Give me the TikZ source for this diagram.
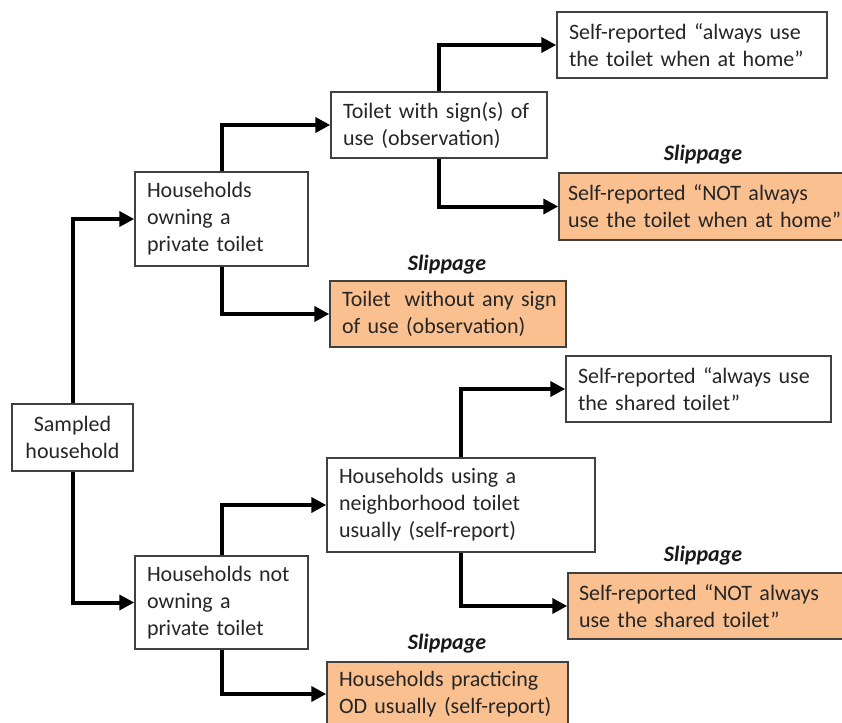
\documentclass[tikz,border=0pt]{standalone}
\usepackage{fontspec}
\setmainfont{Carlito}
\usetikzlibrary{arrows.meta}
\definecolor{slipfill}{HTML}{FAC090}
\definecolor{edgegray}{HTML}{404040}
\begin{document}
\begin{tikzpicture}[x=1pt,y=-1pt,
  font=\fontsize{22}{27}\selectfont,
  box/.style={draw=edgegray, line width=1.5pt, fill=white, inner xsep=12pt, inner ysep=0pt, align=left, text=black!85},
  slipbox/.style={box, fill=slipfill},
  sliplabel/.style={font=\fontsize{22}{27}\selectfont\bfseries\itshape, text=black!90, inner sep=0pt},
  conn/.style={line width=4pt, -{Triangle[length=15pt,width=15pt]}}]
\clip (0,0) rectangle (842,722);
\fill[white] (0,0) rectangle (842,722);
% boxes
\node[box, align=center, minimum width=121pt, text width=97pt, minimum height=67pt] (sampled) at (72.5,437.5) {Sampled\\household};
\node[box, minimum width=173pt, text width=149pt, minimum height=94pt] (own) at (221.5,219) {\mbox{Households}\\\mbox{owning a}\\\mbox{private toilet}};
\node[box, minimum width=173pt, text width=149pt, minimum height=93pt] (notown) at (221.5,602.5) {\mbox{Households not}\\\mbox{owning a}\\\mbox{private toilet}};
\node[box, minimum width=216pt, text width=192pt, minimum height=66pt] (sign) at (439,125) {\mbox{Toilet with sign(s) of}\\\mbox{use (observation)}};
\node[box, minimum width=270pt, text width=246pt, minimum height=66pt] (always1) at (692,45) {\mbox{Self-reported “always use}\\\mbox{the toilet when at home”}};
\node[slipbox, inner xsep=9pt, minimum width=286pt, text width=268pt, minimum height=67pt] (not1) at (702,206.5) {\mbox{Self-reported “NOT always}\\\mbox{use the toilet when at home”}};
\node[slipbox, minimum width=236pt, text width=212pt, minimum height=66pt] (without) at (448,314) {\mbox{Toilet\hspace{0.3em} without any sign}\\\mbox{of use (observation)}};
\node[box, minimum width=265pt, text width=241pt, minimum height=66pt] (always2) at (698.5,389) {\mbox{Self-reported “always use}\\\mbox{the shared toilet”}};
\node[box, minimum width=268pt, text width=244pt, minimum height=94pt] (neigh) at (461,505) {\mbox{Households using a}\\\mbox{neighborhood toilet}\\\mbox{usually (self-report)}};
\node[slipbox, inner xsep=11pt, minimum width=282pt, text width=260pt, minimum height=66pt] (not2) at (709,606) {\mbox{Self-reported “NOT always}\\\mbox{use the shared toilet”}};
\node[slipbox, minimum width=241pt, text width=217pt, minimum height=64pt] (od) at (447.5,694) {\mbox{Households practicing}\\\mbox{OD usually (self-report)}};
% slippage labels
\node[sliplabel] (sl1) at (703,155) {Slippage};
\node[sliplabel] (sl2) at (447,265) {Slippage};
\node[sliplabel] (sl3) at (703,556) {Slippage};
\node[sliplabel] (sl4) at (447,644) {Slippage};
% connectors
\draw[conn] (sampled.north) |- (own.west);
\draw[conn] (sampled.south) |- (notown.west);
\draw[conn] (own.north) |- (sign.west);
\draw[conn] (own.south) |- (without.west);
\draw[conn] (sign.north) |- (always1.west);
\draw[conn] (sign.south) |- (not1.west);
\draw[conn] (notown.north) |- (neigh.west);
\draw[conn] (notown.south) |- (od.west);
\draw[conn] (neigh.north) |- (always2.west);
\draw[conn] (neigh.south) |- (not2.west);
\end{tikzpicture}
\end{document}
